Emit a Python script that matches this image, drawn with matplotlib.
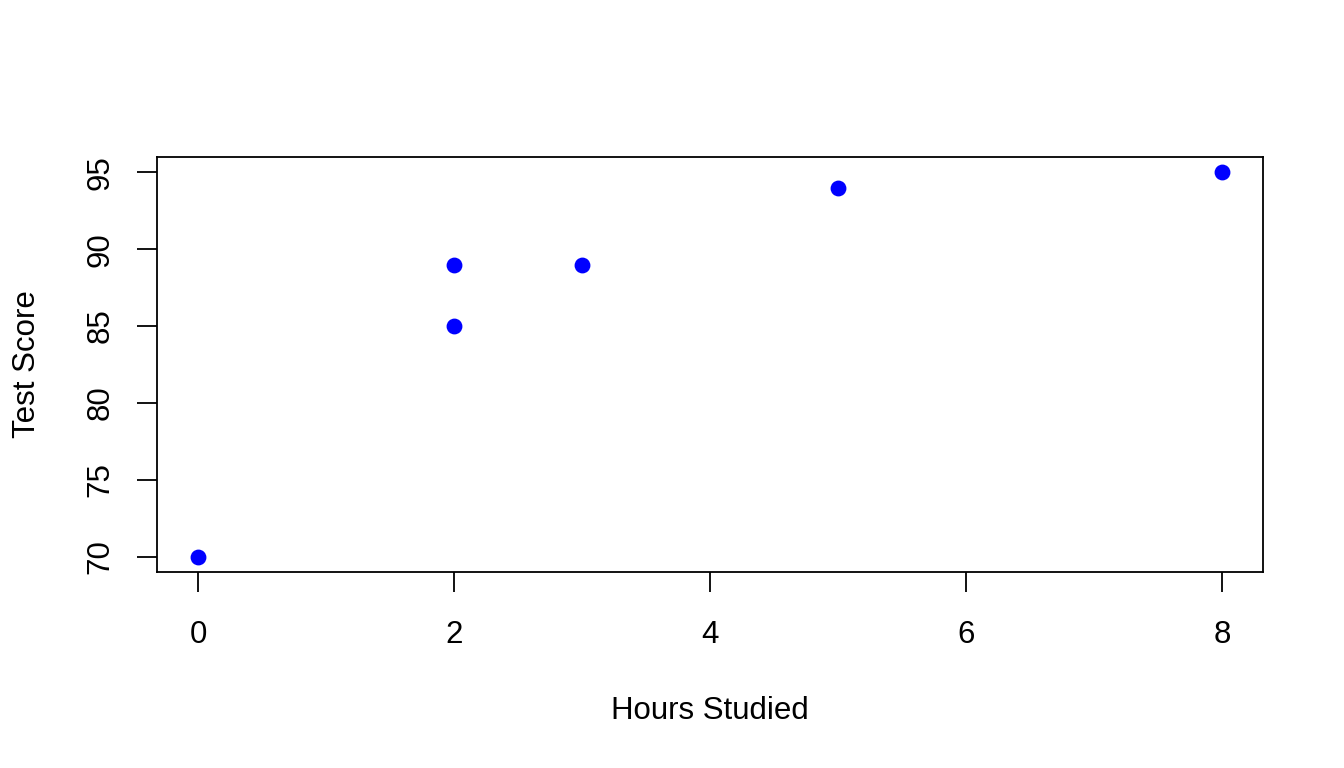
import matplotlib.pyplot as plt

# data
hours = [0, 2, 2, 3, 5, 8]
scores = [70, 85, 89, 89, 94, 95]
x_ticks = [0, 2, 4, 6, 8]
y_ticks = [70, 75, 80, 85, 90, 95]

plt.rcParams['font.family'] = ['Liberation Sans', 'DejaVu Sans']

fig = plt.figure(figsize=(13.44, 7.68), dpi=100)
ax = fig.add_axes([157 / 1344, 1 - 572 / 768, (1263 - 157) / 1344, (572 - 157) / 768])

ax.scatter(hours, scores, s=108, color='blue', zorder=3)

ax.set_xlim(-0.32, 8.32)
ax.set_ylim(69, 96)
ax.set_xticks(x_ticks)
ax.set_yticks(y_ticks)
ax.tick_params(axis='both', direction='out', length=14.4, width=1.3, labelsize=22.5)
ax.tick_params(axis='x', pad=20)
ax.tick_params(axis='y', pad=15.5)
for lbl in ax.get_yticklabels():
    lbl.set_rotation(90)
    lbl.set_va('center')

for s in ax.spines.values():
    s.set_linewidth(1.3)

ax.set_xlabel('Hours Studied', fontsize=22.5, labelpad=33.5)
ax.set_ylabel('Test Score', fontsize=22.5, labelpad=31)

fig.savefig('out.png', dpi=100)
